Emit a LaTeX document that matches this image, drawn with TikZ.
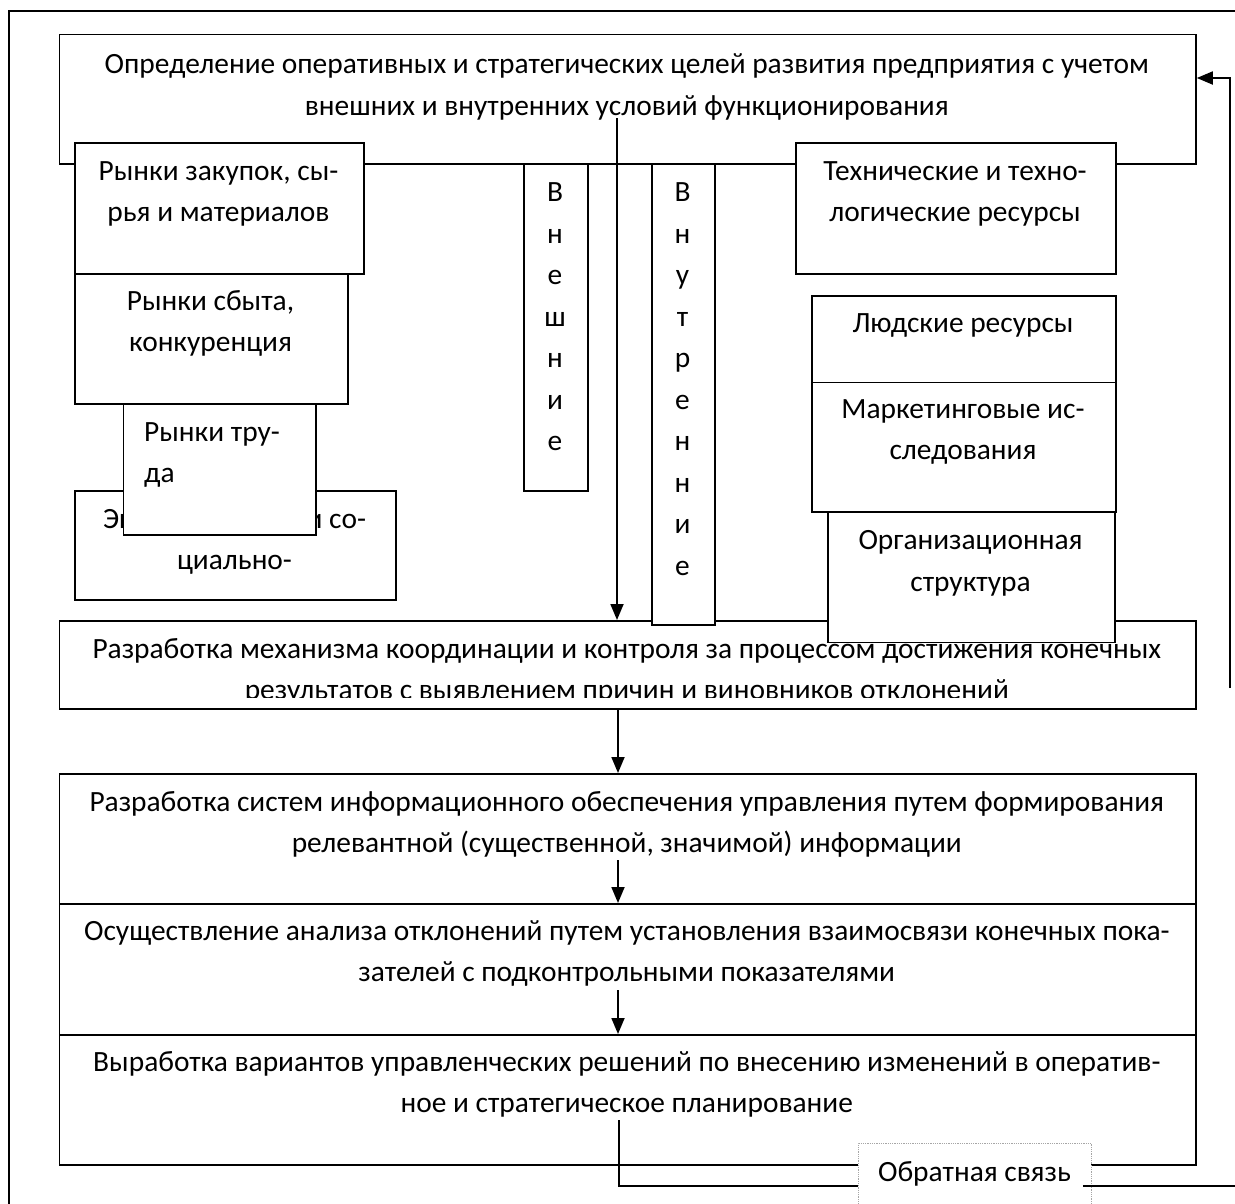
\documentclass[tikz,border=0pt]{standalone}
\usepackage{fontspec}
\setmainfont{Carlito}
\usetikzlibrary{arrows.meta}
\begin{document}
\begin{tikzpicture}[x=1pt,y=-1pt,
  box/.style={draw, line width=1.8pt, fill=white, inner sep=0pt, anchor=north west},
  txt/.style={font=\fontsize{29.4}{41.5}\selectfont, align=center, inner sep=0pt, anchor=base},
  arr/.style={line width=1.8pt, -{Triangle[length=16pt,width=13pt]}},
  ln/.style={line width=1.8pt},
  fbbox/.style={draw=gray!70, densely dotted, line width=0.8pt, fill=white, inner sep=0pt, anchor=north west}
]
\useasboundingbox (0,0) rectangle (1235,1203);
% outer frame (clipped by page)
\draw[ln] (1236,11) -- (8.7,11) -- (8.7,1204);

% top box
\node[box, minimum width=1136.5pt, minimum height=129.4pt] (T) at (58.5,33.6) {};
\node[txt] (Tt) at (626.75,115) {Определение оперативных и стратегических целей развития предприятия с учетом\\внешних и внутренних условий функционирования};

% box 2 (text clipped)
\node[box, minimum width=1136.5pt, minimum height=88pt] (B2) at (58.5,620) {};
\begin{scope}
\clip (58.5,620) rectangle (1195,697);
\node[txt] (B2t) at (626.75,699.5) {Разработка механизма координации и контроля за процессом достижения конечных\\результатов с выявлением причин и виновников отклонений};
\end{scope}

% vertical boxes
\node[box, minimum width=64pt, minimum height=327pt] (EX) at (523,163) {};
\node[txt] (EXt) at (555,450.6) {В\\н\\е\\ш\\н\\и\\е};
\node[box, minimum width=63pt, minimum height=461pt] (IN) at (651,163) {};
\node[txt] (INt) at (682.5,575.1) {В\\н\\у\\т\\р\\е\\н\\н\\и\\е};

% external factors (left)
\node[box, minimum width=289pt, minimum height=131pt] (Z) at (74,142) {};
\node[txt] (Zt) at (218.5,221.5) {Рынки закупок, сы-\\рья и материалов};
\node[box, minimum width=273pt, minimum height=130pt] (S) at (74,273) {};
\node[txt] (St) at (210.5,351.5) {Рынки сбыта,\\конкуренция};
\node[box, minimum width=321pt, minimum height=109pt] (E) at (74,490) {};
\node[txt] (Et) at (234.5,569.5) {Экономические и со-\\циально-};
\node[box, minimum width=192.4pt, minimum height=131pt] (TR) at (122.6,403) {};
\node[txt, anchor=base west, align=left] (TRt) at (144,482.5) {Рынки тру-\\да};

% internal factors (right)
\node[box, minimum width=320pt, minimum height=131pt] (TE) at (795,142) {};
\node[txt] (TEt) at (955,221.5) {Технические и техно-\\логические ресурсы};
\node[box, minimum width=304pt, minimum height=86.6pt] (HU) at (811,295) {};
\node[txt] (HUt) at (963,332) {Людские ресурсы};
\node[box, minimum width=304pt, minimum height=129.4pt] (MK) at (811,381.6) {};
\node[txt] (MKt) at (963,459.5) {Маркетинговые ис-\\следования};
\node[box, minimum width=287pt, minimum height=130.5pt] (OR) at (827,511) {};
\node[txt] (ORt) at (970.5,591) {Организационная\\структура};

% lower boxes
\node[box, minimum width=1136.5pt, minimum height=130pt] (B3) at (58.5,773) {};
\node[txt] (B3t) at (626.75,852.5) {Разработка систем информационного обеспечения управления путем формирования\\релевантной (существенной, значимой) информации};
\node[box, minimum width=1136.5pt, minimum height=131pt] (B4) at (58.5,903) {};
\node[txt] (B4t) at (626.75,981.5) {Осуществление анализа отклонений путем установления взаимосвязи конечных пока-\\зателей с подконтрольными показателями};
\node[box, minimum width=1136.5pt, minimum height=130pt] (B5) at (58.5,1034) {};
\node[txt] (B5t) at (626.75,1112.5) {Выработка вариантов управленческих решений по внесению изменений в оператив-\\ное и стратегическое планирование};

% arrows
\coordinate (a0) at (617,118);
\draw[arr] (a0) -- (a0 |- B2.north);
\coordinate (a2) at (618,708);
\draw[arr] (a2) -- (a2 |- B3.north);
\coordinate (a3) at (618,860);
\draw[arr] (a3) -- (a3 |- B4.north);
\coordinate (a4) at (618,990);
\draw[arr] (a4) -- (a4 |- B5.north);

% feedback
\node[fbbox, minimum width=233pt, minimum height=74pt] (FB) at (858,1143) {};
\node[txt] (FBt) at (974.5,1181) {Обратная связь};
\coordinate (f0) at (619,1120);
\coordinate (f1) at (619,1186);
\draw[ln] (f0) -- (f1) -- (FB.west |- f1);
\coordinate (f2) at (1236,1186);
\draw[ln] ([xshift=-9pt]FB.east |- f1) -- (f2);
\coordinate (r1) at (1230,688);
\coordinate (r2) at (1230,78);
\draw[arr] (r1) -- (r2) -- (T.east |- r2);
\end{tikzpicture}
\end{document}
